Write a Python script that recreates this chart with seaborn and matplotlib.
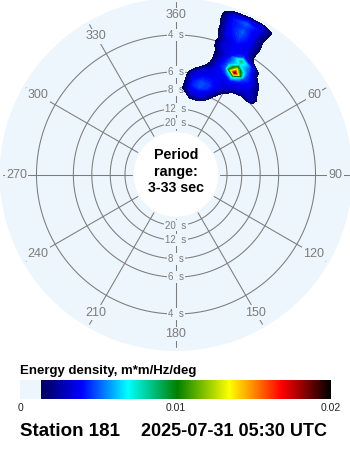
import numpy as np
import pandas as pd
import matplotlib
matplotlib.use("Agg")
import matplotlib.pyplot as plt
from matplotlib.colors import LinearSegmentedColormap, Normalize
from matplotlib.cm import ScalarMappable
import seaborn as sns

# ---------------- data ----------------
directions_deg = [0, 5, 10, 15, 20, 25, 30, 35, 40, 45, 50, 55]
frequencies_hz = [0.09, 0.10, 0.11, 0.12, 0.13, 0.14, 0.15, 0.16, 0.17, 0.18, 0.19,
                  0.20, 0.21, 0.22, 0.23, 0.24, 0.25, 0.26, 0.27, 0.28, 0.29, 0.30,
                  0.31, 0.32, 0.33]
# energy density (m*m/Hz/deg), one row per frequency, one column per direction
energy = [
    [0, 0, 0, 0, 0, 0, 0, 0, 0, 0, 0, 0],
    [0, 0, 0, 0, 0, 0, 0, 0, 0, 0, 0, 0],
    [0, 0, 0.0014, 0.0016, 0.0010, 0, 0, 0, 0, 0, 0, 0],
    [0, 0, 0.0030, 0.0034, 0.0030, 0.0006, 0, 0, 0, 0, 0, 0],
    [0, 0.0016, 0.0036, 0.0040, 0.0036, 0.0016, 0, 0, 0, 0, 0, 0],
    [0, 0.0014, 0.0042, 0.0048, 0.0044, 0.0030, 0.0004, 0, 0, 0, 0, 0],
    [0, 0.0010, 0.0040, 0.0048, 0.0046, 0.0036, 0.0018, 0, 0, 0, 0, 0],
    [0, 0.0008, 0.0036, 0.0042, 0.0042, 0.0038, 0.0032, 0.0014, 0, 0, 0, 0],
    [0, 0.0002, 0.0030, 0.0036, 0.0038, 0.0036, 0.0036, 0.0032, 0.0024, 0.0024, 0, 0],
    [0, 0, 0.0010, 0.0034, 0.0036, 0.0038, 0.0042, 0.0036, 0.0034, 0.0028, 0, 0],
    [0, 0, 0, 0.0014, 0.0034, 0.0042, 0.0075, 0.0042, 0.0036, 0.0016, 0, 0],
    [0, 0, 0, 0.0002, 0.0032, 0.0050, 0.0185, 0.0050, 0.0036, 0.0010, 0, 0],
    [0, 0, 0, 0, 0.0028, 0.0048, 0.0125, 0.0052, 0.0028, 0, 0, 0],
    [0, 0, 0, 0, 0.0026, 0.0046, 0.0070, 0.0050, 0.0012, 0, 0, 0],
    [0, 0, 0, 0, 0.0026, 0.0040, 0.0085, 0.0044, 0.0008, 0, 0, 0],
    [0, 0, 0, 0.0004, 0.0032, 0.0038, 0.0045, 0.0014, 0, 0, 0, 0],
    [0, 0, 0, 0.0004, 0.0034, 0.0038, 0.0038, 0.0006, 0, 0, 0, 0],
    [0, 0, 0, 0, 0.0030, 0.0040, 0.0036, 0.0006, 0, 0, 0, 0],
    [0, 0, 0, 0.0004, 0.0036, 0.0044, 0.0036, 0.0008, 0, 0, 0, 0],
    [0, 0, 0, 0.0004, 0.0038, 0.0048, 0.0036, 0.0006, 0, 0, 0, 0],
    [0, 0, 0, 0.0004, 0.0038, 0.0050, 0.0034, 0.0004, 0, 0, 0, 0],
    [0, 0, 0, 0.0006, 0.0040, 0.0046, 0.0036, 0.0005, 0, 0, 0, 0],
    [0, 0, 0, 0.0006, 0.0040, 0.0050, 0.0038, 0.0008, 0, 0, 0, 0],
    [0, 0, 0, 0.0004, 0.0030, 0.0036, 0.0034, 0.0010, 0, 0, 0, 0],
    [0, 0, 0, 0, 0, 0, 0, 0, 0, 0, 0, 0],
]
spoke_angles_deg = [0, 30, 60, 90, 120, 150, 180, 210, 240, 270, 300, 330]
spoke_labels = ["360", "30", "60", "90", "120", "150", "180", "210", "240", "270", "300", "330"]
ring_periods_s = [4, 6, 8, 12, 20]
ring_labels = ["4  s", "6  s", "8  s", "12  s", "20  s"]
period_min_s, period_max_s = 3, 33
cbar_ticks = [0, 0.01, 0.02]
cbar_ticklabels = ["0", "0.01", "0.02"]
energy_max = 0.02
energy_threshold = 0.00135
cbar_title = "Energy density, m*m/Hz/deg"
station_text = "Station 181"
time_text = "2025-07-31 05:30 UTC"

# ---------------- style ----------------
sns.set_theme(style="white")
plt.rcParams["font.family"] = ["Liberation Sans", "DejaVu Sans"]

DISK = "#EDF5FD"
GRID = "#7c7c7c"
LABEL = "#7c7c7c"

cmap = LinearSegmentedColormap.from_list("cdip", [
    (0.0, DISK), (0.0675, DISK), (0.0680, "#00005A"), (0.198, "#0000FF"),
    (0.347, "#00FFFF"), (0.506, "#008000"), (0.674, "#FFFF00"),
    (0.841, "#FF0000"), (1.0, "#000000")], N=512)
norm = Normalize(0, energy_max)

W, H = 350, 450
fig = plt.figure(figsize=(W / 100, H / 100), dpi=100)
fig.patch.set_facecolor("white")

cx, cy, R = 176, 174.5, 176.4
ax = fig.add_axes([(cx - R) / W, (H - cy - R) / H, 2 * R / W, 2 * R / H], projection="polar")
ax.set_theta_zero_location("N")
ax.set_theta_direction(-1)
f_in, f_out = 1 / period_max_s, 1 / period_min_s
ax.set_ylim(f_in, f_out)
ax.set_rorigin(-0.0653)
ax.set_facecolor(DISK)
ax.grid(False)
ax.set_xticks([])
ax.set_yticks([])
for sp in ax.spines.values():
    sp.set_visible(False)
    sp.set_linewidth(0)
    sp.set_edgecolor("none")

# rings
th = np.linspace(0, 2 * np.pi, 721)
for p in ring_periods_s:
    ax.plot(th, np.full_like(th, 1 / p), color=GRID, lw=0.75, zorder=2)
# spokes
for a, lab in zip(spoke_angles_deg, spoke_labels):
    t = np.deg2rad(a)
    ax.plot([t, t], [f_in + 0.004, 0.3256], color=GRID, lw=0.75, zorder=2)
    ax.text(t, 0.2949, lab, ha="center", va="center", fontsize=9, color=LABEL,
            zorder=3, bbox=dict(boxstyle="square,pad=0.1", fc=DISK, ec="none"))
# ring labels
for p, lab in zip(ring_periods_s, ring_labels):
    for a in (0, 180):
        ax.text(np.deg2rad(a), 1 / p, lab, ha="center", va="center", fontsize=7,
                color=LABEL, zorder=3,
                bbox=dict(boxstyle="square,pad=0.1", fc=DISK, ec="none"))

# spectrum
df = pd.DataFrame(energy, index=frequencies_hz, columns=directions_deg)
TT, FF = np.meshgrid(np.deg2rad(df.columns.values.astype(float)), df.index.values)
levels = np.linspace(energy_threshold, energy_max, 90)
ax.contourf(TT, FF, df.values, levels=levels, cmap=cmap, norm=norm, extend="max", zorder=5)

fig.text(176 / W, 1 - 171.5 / H, f"Period\nrange:\n{period_min_s}-{period_max_s} sec",
         ha="center", va="center", fontsize=10.3, fontweight="bold", linespacing=1.2,
         color="black")

# colorbar
cax = fig.add_axes([20 / W, 1 - 399 / H, 311 / W, 19 / H])
cb = fig.colorbar(ScalarMappable(norm=norm, cmap=cmap), cax=cax, orientation="horizontal",
                  ticks=cbar_ticks)
cb.set_ticklabels(cbar_ticklabels)
cb.outline.set_visible(False)
cax.tick_params(length=0, labelsize=7.5, pad=3, colors="#222222")
fig.text(20 / W, 1 - 371 / H, cbar_title, ha="left", va="center", fontsize=9.5,
         fontweight="bold", color="black")

fig.text(20 / W, 1 - 432 / H, station_text, ha="left", va="center", fontsize=13.5,
         fontweight="bold", color="black")
fig.text(327 / W, 1 - 432 / H, time_text, ha="right", va="center", fontsize=13,
         fontweight="bold", color="black")

fig.savefig("out.png", dpi=100, facecolor="white")
